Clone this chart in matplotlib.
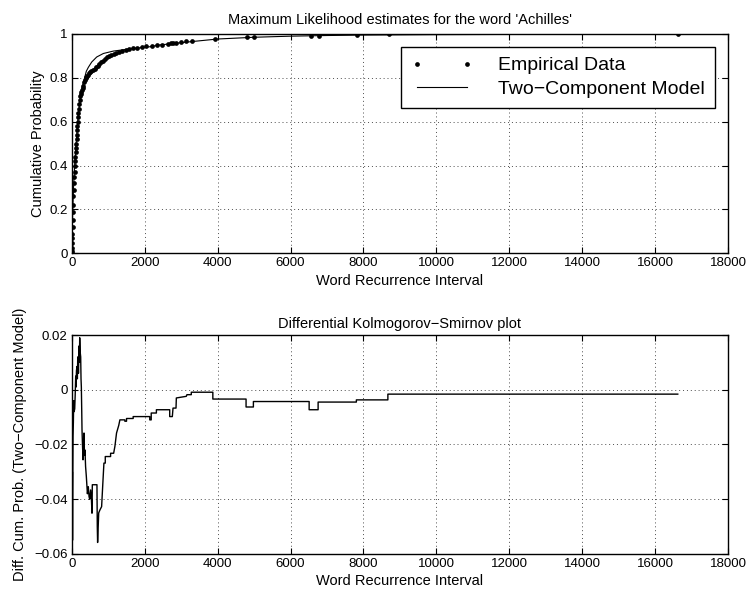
import matplotlib
matplotlib.use("Agg")
import matplotlib.pyplot as plt
import numpy as np

# empirical cumulative distribution
emp_x = [2, 5, 8, 12, 16, 20, 25, 30, 36, 42, 48, 55, 62, 70, 78, 86, 94, 102,
         110, 118, 126, 134, 142, 150, 158, 166, 175, 184, 194, 205, 217, 230, 245,
         262, 280, 300, 320, 340, 360, 380, 400, 425, 447, 475, 505, 540, 580, 625,
         670, 715, 760, 810, 860, 910, 960, 1020, 1080, 1150, 1220, 1300, 1390,
         1480, 1580, 1690, 1800, 1920, 2050, 2190, 2330, 2480, 2630, 2720, 2790,
         2870, 3000, 3140, 3290, 3940, 4820, 5000, 6550, 6780, 7810, 8690, 16620]
emp_y = [0.0, 0.01, 0.025, 0.045, 0.07, 0.09, 0.12, 0.15, 0.19, 0.22, 0.26, 0.29,
         0.32, 0.35, 0.37, 0.40, 0.42, 0.44, 0.46, 0.48, 0.50, 0.52, 0.54, 0.56,
         0.58, 0.60, 0.62, 0.64, 0.66, 0.68, 0.70, 0.715, 0.725, 0.735, 0.745,
         0.755, 0.765, 0.78, 0.79, 0.80, 0.805, 0.81, 0.815, 0.82, 0.825, 0.83,
         0.835, 0.842, 0.848, 0.855, 0.862, 0.87, 0.877, 0.886, 0.893, 0.899,
         0.905, 0.91, 0.915, 0.92, 0.924, 0.928, 0.932, 0.935, 0.937, 0.94, 0.943,
         0.946, 0.949, 0.951, 0.954, 0.957, 0.959, 0.961, 0.963, 0.966, 0.969,
         0.975, 0.985, 0.986, 0.99, 0.992, 0.996, 0.998, 1.0]

# two-component model CDF
model_x = [0, 10, 25, 50, 75, 100, 130, 165, 200, 240, 290, 330, 400, 456, 548,
           685, 868, 1142, 1600, 2148, 2422, 3154, 4000, 5000, 6000, 7000, 8000,
           10000, 12000, 14000, 16620]
model_y = [0, 0.08, 0.18, 0.30, 0.38, 0.45, 0.52, 0.60, 0.66, 0.71, 0.76, 0.785,
           0.83, 0.848, 0.872, 0.895, 0.911, 0.922, 0.932, 0.942, 0.950, 0.963,
           0.977, 0.985, 0.990, 0.993, 0.995, 0.997, 0.998, 0.999, 1.0]

# difference empirical - model
diff_x = [5, 10, 15, 18, 22, 28, 36, 45, 55, 65, 82, 95, 109, 120, 130, 146, 155,
          165, 173, 185, 200, 210, 219, 230, 246, 255, 264, 275, 282, 295, 310, 320,
          337, 350, 364, 380, 401, 430, 455, 475, 492, 519, 540, 556, 565, 692, 701,
          710, 740, 774, 820, 850, 883, 920, 920, 1066, 1066, 1150, 1184, 1229, 1290,
          1321, 1457, 1457, 1503, 1503, 1685, 1685, 2140, 2140, 2180, 2180, 2322,
          2322, 2687, 2687, 2759, 2778, 2860, 2869, 3142, 3160, 3279, 3279, 3870,
          3870, 4781, 4781, 4982, 4982, 6511, 6511, 6757, 6757, 7806, 7806, 8670,
          8670, 16620]
diff_y = [-0.03, -0.055, -0.045, -0.03, -0.055, -0.035, -0.017, -0.012, -0.004,
          -0.008, -0.007, -0.002, 0.005, 0.001, 0.007, 0.0085, 0.004, 0.012, 0.012,
          0.006, 0.016, 0.01, 0.019, 0.014, 0.012, 0.004, 0.001, -0.008, -0.0146,
          -0.02, -0.0256, -0.022, -0.0158, -0.024, -0.022, -0.028, -0.0317, -0.038,
          -0.0354, -0.039, -0.040, -0.0366, -0.04, -0.0451, -0.0347, -0.0347, -0.05,
          -0.0558, -0.045, -0.0439, -0.0427, -0.035, -0.0268, -0.0268, -0.0244,
          -0.0244, -0.0232, -0.0232, -0.0207, -0.0158, -0.013, -0.011, -0.011,
          -0.0115, -0.0115, -0.0105, -0.0105, -0.0098, -0.0098, -0.011, -0.011,
          -0.0085, -0.0085, -0.0073, -0.0073, -0.0098, -0.0098, -0.0067, -0.0067,
          -0.0030, -0.0024, -0.0018, -0.0018, -0.0009, -0.0009, -0.0034, -0.0034,
          -0.0063, -0.0063, -0.0043, -0.0043, -0.0073, -0.0073, -0.0045, -0.0045,
          -0.0037, -0.0037, -0.0016, -0.0016]

plt.rcParams['font.family'] = ['Liberation Sans', 'DejaVu Sans']
plt.rcParams['axes.unicode_minus'] = True

fig = plt.figure(figsize=(7.51, 5.96), dpi=100)
ax1 = fig.add_axes([0.0955, 0.575, 0.874, 0.368])
ax2 = fig.add_axes([0.0955, 0.0705, 0.874, 0.3674])


def matlab_style(ax):
    ax.grid(True, linestyle=(0, (1, 3)), linewidth=0.7, color='0.3')
    ax.tick_params(direction='in', top=True, right=True, length=4, width=0.8,
                   labelsize=9.5, pad=3)
    for s in ax.spines.values():
        s.set_linewidth(1.0)
    ax.set_xlim(0, 18000)
    ax.set_xticks(np.arange(0, 18001, 2000))


ax1.plot(emp_x, emp_y, 'o', color='black', markersize=3.4, markeredgewidth=0,
         label='Empirical Data')
ax1.plot(model_x, model_y, '-', color='black', linewidth=0.8,
         label='Two\u2212Component Model')
matlab_style(ax1)
ax1.set_ylim(0, 1)
ax1.set_yticks([0, 0.2, 0.4, 0.6, 0.8, 1])
ax1.set_yticklabels(['0', '0.2', '0.4', '0.6', '0.8', '1'])
ax1.set_title("Maximum Likelihood estimates for the word 'Achilles'", fontsize=10.5, pad=7)
ax1.set_xlabel('Word Recurrence Interval', fontsize=10.5, labelpad=3)
ax1.set_ylabel('Cumulative Probability', fontsize=10.5, labelpad=3)
leg = ax1.legend(loc='upper right', bbox_to_anchor=(0.98, 0.94), borderaxespad=0,
                 fontsize=14, numpoints=2, handlelength=3.2, handletextpad=1.3,
                 fancybox=False, framealpha=1, edgecolor='black',
                 labelspacing=0.3, borderpad=0.5)
leg.get_frame().set_linewidth(1.0)

ax2.plot(diff_x, diff_y, '-', color='black', linewidth=1.0)
matlab_style(ax2)
ax2.set_ylim(-0.06, 0.02)
ax2.set_yticks([-0.06, -0.04, -0.02, 0, 0.02])
ax2.set_yticklabels(['\u22120.06', '\u22120.04', '\u22120.02', '0', '0.02'])
ax2.set_title('Differential Kolmogorov\u2212Smirnov plot', fontsize=10.5, pad=5)
ax2.set_xlabel('Word Recurrence Interval', fontsize=10.5, labelpad=3)
ax2.set_ylabel('Diff. Cum. Prob. (Two\u2212Component Model)', fontsize=10.5, labelpad=5)

fig.savefig('out.png', dpi=100)
